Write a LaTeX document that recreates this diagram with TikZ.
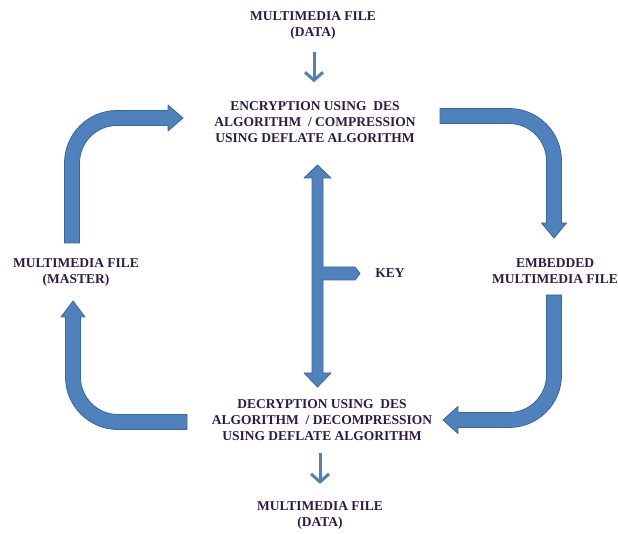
\documentclass[tikz,border=0pt]{standalone}
\usepackage{fontspec}
\setmainfont{Liberation Serif}
\usetikzlibrary{arrows.meta}
\definecolor{bfill}{HTML}{4F81BD}
\definecolor{bline}{HTML}{3A679C}
\definecolor{txt}{HTML}{2D1B46}
\tikzset{
  lbl/.style={font=\bfseries\fontsize{13.5}{16}\selectfont, text=txt, align=center, inner sep=0pt},
  blockarrow/.style={fill=bfill, draw=bline, line width=0.8pt, line join=round},
  thinarrow/.style={draw=bfill, line width=3pt, -{Straight Barb[length=8pt,width=18pt]}}
}
\begin{document}
\begin{tikzpicture}[x=1pt,y=1pt]
\useasboundingbox (0,0) rectangle (618,533);

% text nodes
\node[lbl] (src) at (313,508) {MULTIMEDIA FILE\\(DATA)};
\node[lbl] (enc) at (315,411) {ENCRYPTION USING~ DES\\ALGORITHM~ / COMPRESSION\\USING DEFLATE ALGORITHM};
\node[lbl] (master) at (76,261) {MULTIMEDIA FILE\\(MASTER)};
\node[lbl] (emb) at (555,262) {EMBEDDED\\MULTIMEDIA FILE};
\node[lbl] (key) at (390,260) {KEY};
\node[lbl] (dec) at (322,113) {DECRYPTION USING~ DES\\ALGORITHM~ / DECOMPRESSION\\USING DEFLATE ALGORITHM};
\node[lbl] (out) at (320,18) {MULTIMEDIA FILE\\(DATA)};

% thin arrows
\draw[thinarrow, shorten <=13pt, shorten >=19pt] (src.south -| 314,0) -- (enc.north -| 314,0);
\draw[thinarrow, shorten <=12pt, shorten >=17pt] (dec.south -| 320,0) -- (out.north -| 320,0);

% top-left bent arrow (master -> encryption)
\path[blockarrow] (64.5,290) -- (64.5,370) arc[start angle=180,end angle=90,radius=52.5]
  -- (168,422.5) -- (168,428) -- (183,415) -- (168,402) -- (168,407.5) -- (117,407.5)
  arc[start angle=90,end angle=180,radius=37.5] -- (79.5,290) -- cycle;

% top-right bent arrow (encryption -> embedded)
\path[blockarrow] (440,424.5) -- (509,424.5) arc[start angle=90,end angle=0,radius=52.5]
  -- (561.5,310) -- (566.5,310) -- (554,295) -- (541.5,310) -- (546.5,310) -- (546.5,372)
  arc[start angle=0,end angle=90,radius=37.5] -- (440,409.5) -- cycle;

% bottom-right bent arrow (embedded -> decryption)
\path[blockarrow] (561.5,238) -- (561.5,158) arc[start angle=0,end angle=-90,radius=52.5]
  -- (458,105.5) -- (458,99.5) -- (443,113) -- (458,126.5) -- (458,120.5) -- (509,120.5)
  arc[start angle=-90,end angle=0,radius=37.5] -- (546.5,238) -- cycle;

% bottom-left bent arrow (decryption -> master)
\path[blockarrow] (187,103.5) -- (118,103.5) arc[start angle=-90,end angle=-180,radius=52.5]
  -- (65.5,216) -- (61,216) -- (73,232) -- (85,216) -- (80.5,216) -- (80.5,156)
  arc[start angle=180,end angle=270,radius=37.5] -- (187,118.5) -- cycle;

% central double arrow with key branch
\path[blockarrow] (312,160) -- (304,160) -- (317.5,146) -- (331,160) -- (323,160)
  -- (323,253) -- (355,253) -- (360,259.5) -- (355,266) -- (323,266)
  -- (323,355) -- (331,355) -- (317.5,368) -- (304,355) -- (312,355) -- cycle;
\end{tikzpicture}
\end{document}
